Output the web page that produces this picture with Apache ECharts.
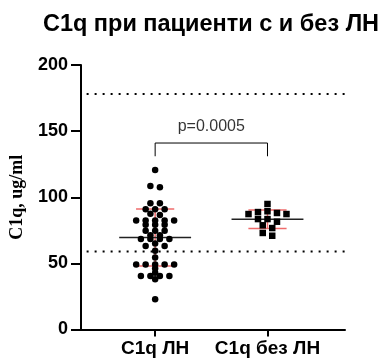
<!DOCTYPE html>
<html>
<head>
<meta charset="utf-8">
<script src="https://cdn.jsdelivr.net/npm/echarts@6/dist/echarts.min.js"></script>
<style>
  html, body { margin: 0; padding: 0; background: #fff; }
  #chart { width: 386px; height: 364px; }
</style>
</head>
<body>
<div id="chart"></div>
<script>
// Groups and measured C1q concentrations (ug/ml)
const categories = ['C1q ЛН', 'C1q без ЛН'];
const withLN = [
  120.6, 108.5, 107.5, 95.4, 95.4, 91, 91, 91, 87.5, 86.5,
  82.5, 82.5, 82.5, 82.5, 82.5, 79.3, 79.3, 79.3, 74.6, 74.6,
  74.6, 71.3, 71.3, 68.5, 68.5, 68.5, 68.5, 65, 63.2, 63.2,
  59.5, 54.5, 49.2, 49.2, 49.2, 49.2, 49.2, 46.2, 43, 40.5,
  40.5, 40.5, 40.5, 38, 22.8
];
const withoutLN = [
  94.9, 89.4, 88.8, 88.1, 87.3, 87.3, 83.5, 83.5, 81.5, 78.8,
  76.7, 73, 70.9
];
// Reference range limits (dotted lines)
const refLimits = [59, 178];
// Significance bracket: leg bottom and top, and its label
const bracket = [131, 141];
const pLabel = 'p=0.0005';
const yTicks = { min: 0, max: 200, step: 50 };

const FONT = 'Liberation Sans, Arial, Helvetica, sans-serif';
const X_MIN = 0.34, X_MAX = 2.69;
const COL = 0.0845;      // horizontal spacing between neighbouring dots (axis units)
const BIN = 2.3;         // values closer than this share a row

// Row-based dot layout: dots whose values fall into one row are spread sideways
function swarmOffsets(values) {
  const order = values.map((v, i) => i).sort((a, b) => values[b] - values[a]);
  const off = new Array(values.length).fill(0);
  let i = 0;
  while (i < order.length) {
    const top = values[order[i]];
    let j = i;
    while (j < order.length && top - values[order[j]] <= BIN + 1e-9) j++;
    const n = j - i;
    const slots = [];
    if (n % 2) {
      slots.push(0);
      for (let k = 1; slots.length < n; k++) slots.push(-k, k);
    } else {
      for (let k = 0.5; slots.length < n; k++) slots.push(-k, k);
    }
    for (let m = 0; m < n; m++) off[order[i + m]] = slots[m] * COL;
    i = j;
  }
  return off;
}

function meanSd(arr) {
  const m = arr.reduce((s, v) => s + v, 0) / arr.length;
  const sd = Math.sqrt(arr.reduce((s, v) => s + (v - m) * (v - m), 0) / (arr.length - 1));
  return [m, sd];
}

const groups = [withLN, withoutLN];
const symbols = ['circle', 'rect'];
const symbolSizes = [6.5, 6.5];

const series = [];

// Dotted reference lines
refLimits.forEach(v => {
  series.push({
    type: 'line', silent: true, symbol: 'none', z: 1,
    data: [[X_MIN + 0.05, v], [X_MAX, v]],
    lineStyle: { color: '#000', width: 2, type: [2, 6] }
  });
});

groups.forEach((vals, g) => {
  const x = g + 1;
  const [m, sd] = meanSd(vals);
  // mean ± SD whiskers
  const red = { color: '#ef6b6b', width: 1.5 };
  series.push({ type: 'line', silent: true, symbol: 'none', z: 2, lineStyle: red,
    data: [[x - 0.17, m + sd], [x + 0.17, m + sd]] });
  series.push({ type: 'line', silent: true, symbol: 'none', z: 2, lineStyle: red,
    data: [[x - 0.17, m - sd], [x + 0.17, m - sd]] });
  series.push({ type: 'line', silent: true, symbol: 'none', z: 2, lineStyle: red,
    data: [[x, m - sd], [x, m + sd]] });
  // mean line
  series.push({ type: 'line', silent: true, symbol: 'none', z: 3,
    lineStyle: { color: '#222', width: 1.5 },
    data: [[x - 0.32, m], [x + 0.32, m]] });
  // individual values
  const off = swarmOffsets(vals);
  series.push({
    type: 'scatter', z: 5, symbol: symbols[g], symbolSize: symbolSizes[g],
    itemStyle: { color: '#000', opacity: 1 },
    data: vals.map((v, i) => [x + off[i], v])
  });
});

// Significance bracket
series.push({
  type: 'line', silent: true, symbol: 'none', z: 3,
  lineStyle: { color: '#000', width: 1 },
  data: [[1, bracket[0]], [1, bracket[1]], [2, bracket[1]], [2, bracket[0]]]
});
series.push({
  type: 'scatter', silent: true, symbolSize: 0, z: 6,
  data: [[1.5, bracket[1]]],
  label: {
    show: true, position: 'top', distance: 8, formatter: pLabel,
    color: '#000', fontFamily: FONT, fontSize: 16
  }
});

const chart = echarts.init(document.getElementById('chart'), null, { renderer: 'canvas' });
chart.setOption({
  animation: false,
  backgroundColor: '#fff',
  title: {
    text: 'C1q при пациенти с и без ЛН',
    left: 211, top: 13, padding: 0, textAlign: 'center',
    textStyle: { fontFamily: FONT, fontSize: 23.5, fontWeight: 'bold', color: '#000' }
  },
  grid: { left: 81, right: 41, top: 65, bottom: 34.5, outerBoundsMode: 'none', containLabel: false },
  xAxis: {
    type: 'value', min: X_MIN, max: X_MAX,
    splitLine: { show: false },
    axisLine: { show: true, onZero: false, lineStyle: { color: '#000', width: 2 } },
    axisTick: { show: true, customValues: [1, 2], length: 7, lineStyle: { color: '#000', width: 2 } },
    axisLabel: {
      customValues: [1, 2],
      formatter: v => categories[Math.round(v) - 1],
      margin: 10, color: '#000', fontFamily: FONT, fontSize: 19, fontWeight: 'bold'
    }
  },
  yAxis: {
    type: 'value', min: yTicks.min, max: yTicks.max, interval: yTicks.step,
    name: 'C1q, ug/ml', nameLocation: 'middle', nameGap: 55, nameRotate: 90,
    nameTextStyle: { fontFamily: 'Liberation Serif, Times New Roman, serif', fontWeight: 'bold', fontSize: 18, color: '#000' },
    splitLine: { show: false },
    axisLine: { show: true, lineStyle: { color: '#000', width: 2 } },
    axisTick: { show: true, length: 10, lineStyle: { color: '#000', width: 2 } },
    axisLabel: { margin: 13, color: '#000', fontFamily: FONT, fontSize: 18, fontWeight: 'bold' }
  },
  series: series
});
</script>
</body>
</html>
